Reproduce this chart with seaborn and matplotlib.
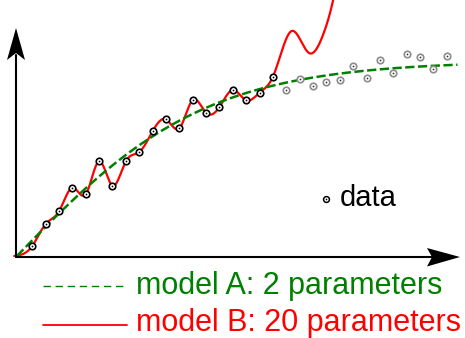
import numpy as np
import matplotlib
matplotlib.use("Agg")
import matplotlib.pyplot as plt
from matplotlib.patches import Polygon
from matplotlib.lines import Line2D
from matplotlib.transforms import Affine2D
import seaborn as sns

# ---- observations -------------------------------------------------------
x_train = np.arange(1, 20)
y_train = [10.0, 32.0, 44.7, 68.3, 61.7, 94.7, 70.3, 94.7, 104.0, 124.7,
           136.7, 127.7, 156.0, 143.3, 149.0, 166.0, 155.7, 163.3, 179.3]

x_test = np.arange(20, 33)
y_test = [166.3, 177.0, 170.0, 174.0, 175.7, 190.0, 178.3, 196.3, 183.0,
          202.0, 198.7, 186.7, 199.7]

# ---- model A: saturating curve, 2 parameters -----------------------------
model_a_height = 195.0
model_a_width = 14.2
model_a_start = -0.15

# ---- model B: flexible curve through the training points ------------------
model_b_start = (-0.35, 0.0)
model_b_tail_x = [20.4, 21.7, 22.8, 23.4, 24.0]
model_b_tail_y = [225.0, 203.0, 223.0, 250.0, 290.0]

legend_a = "model A: 2 parameters"
legend_b = "model B: 20 parameters"
legend_data = "data"

GREEN = "#008000"
RED = "#ff0000"
GRAY = "#8c8c8c"

W, H = 465, 338


def natural_cubic_spline(xk, yk, xs):
    xk = np.asarray(xk, float)
    yk = np.asarray(yk, float)
    n = len(xk)
    h = np.diff(xk)
    A = np.zeros((n, n))
    r = np.zeros(n)
    A[0, 0] = A[-1, -1] = 1.0
    for i in range(1, n - 1):
        A[i, i - 1] = h[i - 1]
        A[i, i] = 2 * (h[i - 1] + h[i])
        A[i, i + 1] = h[i]
        r[i] = 3 * ((yk[i + 1] - yk[i]) / h[i] - (yk[i] - yk[i - 1]) / h[i - 1])
    c = np.linalg.solve(A, r)
    b = (yk[1:] - yk[:-1]) / h - h * (2 * c[:-1] + c[1:]) / 3
    d = (c[1:] - c[:-1]) / (3 * h)
    idx = np.clip(np.searchsorted(xk, xs) - 1, 0, n - 2)
    t = xs - xk[idx]
    return yk[idx] + b[idx] * t + c[idx] * t ** 2 + d[idx] * t ** 3


sns.set_style("white")
plt.rcParams["font.family"] = ["Liberation Sans", "DejaVu Sans"]

fig = plt.figure(figsize=(W / 100, H / 100), dpi=100)
ax = fig.add_axes([0, 0, 1, 1])
ax.set_xlim(-18.9 / 13.37, (W - 18.9) / 13.37)
ax.set_ylim(256 - H, 256)
ax.axis("off")

# pixel-space transform (origin top-left) for the axis arrows and legend
px = Affine2D().scale(1 / W, -1 / H).translate(0, 1) + fig.transFigure

# model curves
xa = np.linspace(model_a_start, 32.8, 300)
ya = model_a_height * np.tanh((xa - model_a_start) / model_a_width)
sns.lineplot(x=xa, y=ya, ax=ax, color=GREEN, lw=1.8,
             linestyle=(0, (3.7, 1.4)), zorder=3)

knots_x = np.concatenate([[model_b_start[0]], x_train, model_b_tail_x])
knots_y = np.concatenate([[model_b_start[1]], y_train, model_b_tail_y])
xb = np.linspace(knots_x[0], knots_x[-1], 1200)
yb = natural_cubic_spline(knots_x, knots_y, xb)
sns.lineplot(x=xb, y=yb, ax=ax, color=RED, lw=1.6, zorder=2)

# data points: ring with a centre dot
sns.scatterplot(x=x_train, y=y_train, ax=ax, s=22, color="white",
                edgecolor="black", linewidth=1.2, zorder=4)
sns.scatterplot(x=x_train, y=y_train, ax=ax, s=1.6, color="black",
                linewidth=0, zorder=5)
sns.scatterplot(x=x_test, y=y_test, ax=ax, s=22, color="white",
                edgecolor=GRAY, linewidth=1.2, zorder=4)
sns.scatterplot(x=x_test, y=y_test, ax=ax, s=1.6, color="#333333",
                linewidth=0, zorder=5)

# axes with notched arrowheads
fig.add_artist(Line2D([16, 16], [256.5, 55], transform=px, color="black", lw=1.5))
fig.add_artist(Line2D([16, 432], [256.5, 256.5], transform=px, color="black", lw=1.5))
fig.add_artist(Polygon([[16, 28], [7, 60], [16, 53], [25, 60]], closed=True,
                       transform=px, color="black", lw=0))
fig.add_artist(Polygon([[460, 257], [427, 248], [432, 257], [427, 266.5]], closed=True,
                       transform=px, color="black", lw=0))

# legend
fig.add_artist(Line2D([326], [199.3], transform=px, marker="o", ms=4.2,
                      mfc="white", mec="black", mew=1.1, ls="none"))
fig.add_artist(Line2D([326], [199.3], transform=px, marker="o", ms=1.2,
                      mfc="black", mec="black", mew=0, ls="none"))
fig.text(339.5, 206.5, legend_data, transform=px, fontsize=21,
         color="black", ha="left", va="baseline")

fig.add_artist(Line2D([43.3, 123.3], [286, 286], transform=px, color=GREEN,
                      lw=1.0, linestyle=(0, (5.3, 3.4))))
fig.add_artist(Line2D([43.3, 126.7], [324.5, 324.5], transform=px, color=RED,
                      lw=1.3))
fig.text(136, 294, legend_a, transform=px, fontsize=22, color=GREEN,
         ha="left", va="baseline")
fig.text(136, 330.5, legend_b, transform=px, fontsize=22, color=RED,
         ha="left", va="baseline")

fig.savefig("out.png", dpi=100)
